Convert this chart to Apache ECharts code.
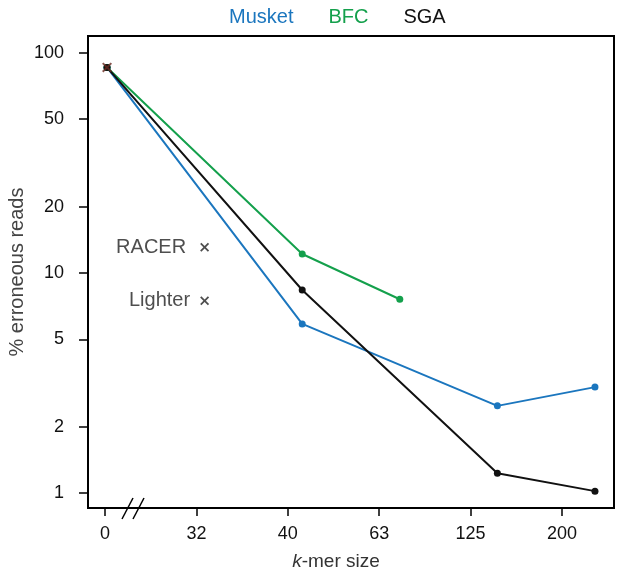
<!DOCTYPE html>
<html>
<head>
<meta charset="utf-8">
<script src="https://cdn.jsdelivr.net/npm/echarts@6/dist/echarts.min.js"></script>
<style>
  html, body { margin: 0; padding: 0; background: #fff; }
  #chart { width: 617px; height: 573px; }
</style>
</head>
<body>
<div id="chart"></div>
<script>
  // k-mer sizes shown on the x axis (equally spaced, not to scale)
  const kmerLabels = ['0', '32', '40', '63', '125', '200']
  const yTicks = [1, 2, 5, 10, 20, 50, 100]

  // % erroneous reads per tool
  const musketK = ['0', '40', '125', '200']
  const musketVals = [86, 5.87, 2.49, 3.03]
  const bfcK = ['0', '40', '63']
  const bfcVals = [86, 12.2, 7.6]
  const sgaK = ['0', '40', '125', '200']
  const sgaVals = [86, 8.37, 1.23, 1.02]
  // tools with a single result
  const otherTools = ['RACER', 'Lighter']
  const otherK = ['32', '32']
  const otherVals = [13.1, 7.48]
  const rawK = ['0']
  const rawVals = [86]

  const BLUE = '#1b76be'
  const GREEN = '#14a04c'
  const BLACK = '#111'
  const FONT = 'Liberation Sans, Arial, sans-serif'

  const pts = (ks, vals) => ks.map((k, i) => [kmerLabels.indexOf(k), vals[i]])
  const cross = 'path://M0,1.4L1.4,0L5,3.6L8.6,0L10,1.4L6.4,5L10,8.6L8.6,10L5,6.4L1.4,10L0,8.6L3.6,5Z'

  const chart = echarts.init(document.getElementById('chart'))

  const lineSeries = (name, ks, vals, color) => ({
    name,
    type: 'line',
    xAxisIndex: 1,
    data: pts(ks, vals),
    symbol: 'circle',
    symbolSize: 7,
    lineStyle: { color, width: 2 },
    itemStyle: { color },
    z: 3
  })

  chart.setOption({
    animation: false,
    textStyle: { fontFamily: FONT },
    legend: {
      left: 219,
      top: 2,
      itemWidth: 0,
      itemHeight: 0,
      itemGap: 30,
      textStyle: { fontSize: 20 },
      data: [
        { name: 'Musket', icon: 'none', textStyle: { color: BLUE } },
        { name: 'BFC', icon: 'none', textStyle: { color: GREEN } },
        { name: 'SGA', icon: 'none', textStyle: { color: BLACK } }
      ]
    },
    grid: {
      left: 88, right: 3, top: 36, bottom: 65,
      outerBoundsMode: 'none',
      containLabel: false,
      show: true,
      borderColor: '#000',
      borderWidth: 2
    },
    xAxis: [
      {
        // tick labels
        type: 'value',
        min: -0.186,
        max: 5.569,
        splitLine: { show: false },
        axisLine: { onZero: false, lineStyle: { color: '#000', width: 2 } },
        axisTick: { customValues: [0, 1, 2, 3, 4, 5], length: 8, lineStyle: { color: '#000', width: 1.5 } },
        axisLabel: {
          customValues: [0, 1, 2, 3, 4, 5],
          formatter: v => kmerLabels[Math.round(v)],
          color: BLACK, fontSize: 18, margin: 17
        },
        name: '{i|k}-mer size',
        nameLocation: 'middle',
        nameGap: 44,
        nameMoveOverlap: false,
        nameTextStyle: {
          fontSize: 19, color: '#333', padding: [0, 30, 0, 0],
          rich: { i: { fontSize: 19, fontStyle: 'italic', color: '#333' } }
        }
      },
      {
        // data positions
        type: 'value',
        min: -0.195,
        max: 5.195,
        show: false
      }
    ],
    yAxis: {
      type: 'log',
      logBase: 10,
      min: 0.855,
      max: 119.5,
      splitLine: { show: false },
      axisLine: { onZero: false, lineStyle: { color: '#000', width: 2 } },
      axisTick: { customValues: yTicks, length: 9, lineStyle: { color: '#000', width: 1.5 } },
      axisLabel: { customValues: yTicks, color: BLACK, fontSize: 18, margin: 24 },
      name: '% erroneous reads',
      nameLocation: 'middle',
      nameGap: 61,
      nameMoveOverlap: false,
      nameTextStyle: { fontSize: 20, color: '#444' }
    },
    series: [
      lineSeries('Musket', musketK, musketVals, BLUE),
      lineSeries('BFC', bfcK, bfcVals, GREEN),
      lineSeries('SGA', sgaK, sgaVals, BLACK),
      {
        name: 'others',
        type: 'scatter',
        xAxisIndex: 1,
        symbol: cross,
        symbolSize: 9,
        itemStyle: { color: '#222' },
        data: otherTools.map((t, i) => ({
          name: t,
          value: [kmerLabels.indexOf(otherK[i]), otherVals[i]],
          label: { distance: i === 0 ? 14 : 10 }
        })),
        label: {
          show: true,
          position: 'left',
          formatter: p => p.name,
          fontSize: 20,
          color: '#222'
        },
        z: 4
      },
      {
        name: 'raw',
        type: 'scatter',
        xAxisIndex: 1,
        symbol: cross,
        symbolSize: 10,
        itemStyle: { color: '#6a2a22' },
        data: pts(rawK, rawVals),
        z: 5
      }
    ],
    graphic: [
      // axis break marks
      { type: 'line', shape: { x1: 122, y1: 519, x2: 133, y2: 498 }, style: { stroke: '#000', lineWidth: 1.5 }, z: 10 },
      { type: 'line', shape: { x1: 133, y1: 519, x2: 144, y2: 498 }, style: { stroke: '#000', lineWidth: 1.5 }, z: 10 }
    ]
  })
</script>
</body>
</html>
